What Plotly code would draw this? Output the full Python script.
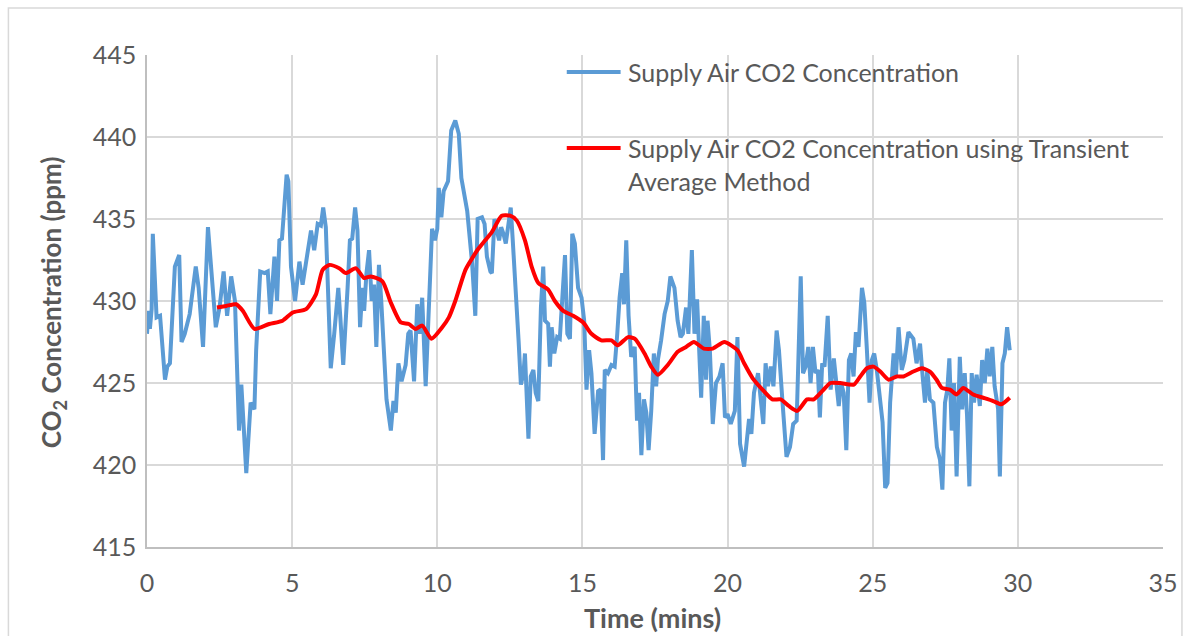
import plotly.graph_objects as go

# Supply air CO2 readings (time in minutes, concentration in ppm)
supply_time = [
    0.00, 0.05, 0.10, 0.16, 0.20, 0.27, 0.33, 0.45, 0.62, 0.70, 0.79, 0.96, 1.11, 1.19, 1.30,
    1.47, 1.68, 1.78, 1.93, 2.10, 2.22, 2.37, 2.50, 2.64, 2.76, 2.90, 3.03, 3.17, 3.25, 3.42,
    3.57, 3.70, 3.76, 3.90, 4.05, 4.16, 4.25, 4.39, 4.48, 4.56, 4.65, 4.81, 4.87, 4.96, 5.10,
    5.25, 5.36, 5.48, 5.65, 5.76, 5.88, 5.99, 6.07, 6.16, 6.24, 6.33, 6.45, 6.59, 6.66, 6.76,
    6.91, 6.99, 7.07, 7.17, 7.25, 7.34, 7.42, 7.48, 7.56, 7.65, 7.74, 7.82, 7.90, 7.99, 8.07,
    8.17, 8.25, 8.40, 8.49, 8.57, 8.66, 8.77, 8.91, 9.00, 9.08, 9.20, 9.31, 9.40, 9.48, 9.60,
    9.71, 9.82, 9.92, 10.00, 10.05, 10.14, 10.22, 10.37, 10.48, 10.62, 10.74, 10.83, 11.03, 11.20, 11.31,
    11.39, 11.54, 11.63, 11.71, 11.83, 11.88, 11.97, 12.05, 12.13, 12.20, 12.28, 12.36, 12.45, 12.53, 12.60,
    12.68, 12.80, 12.88, 12.97, 13.02, 13.14, 13.22, 13.31, 13.39, 13.48, 13.57, 13.65, 13.71, 13.82, 13.88,
    13.94, 14.03, 14.13, 14.22, 14.40, 14.48, 14.57, 14.65, 14.74, 14.85, 14.97, 15.06, 15.14, 15.23, 15.31,
    15.42, 15.54, 15.63, 15.71, 15.77, 15.88, 16.00, 16.11, 16.20, 16.28, 16.37, 16.43, 16.51, 16.59, 16.68,
    16.80, 16.88, 16.95, 17.03, 17.12, 17.20, 17.28, 17.37, 17.46, 17.54, 17.60, 17.71, 17.83, 17.94, 18.03,
    18.17, 18.28, 18.38, 18.46, 18.57, 18.65, 18.77, 18.86, 18.95, 19.03, 19.09, 19.18, 19.26, 19.31, 19.39,
    19.49, 19.60, 19.72, 19.83, 19.91, 20.00, 20.11, 20.25, 20.34, 20.43, 20.57, 20.68, 20.74, 20.82, 20.91,
    21.05, 21.14, 21.23, 21.31, 21.39, 21.49, 21.58, 21.69, 21.77, 21.89, 22.03, 22.15, 22.26, 22.38, 22.52,
    22.60, 22.69, 22.78, 22.86, 22.94, 23.03, 23.11, 23.18, 23.26, 23.34, 23.45, 23.55, 23.66, 23.83, 23.91,
    24.00, 24.09, 24.18, 24.26, 24.34, 24.42, 24.51, 24.63, 24.71, 24.80, 24.89, 24.97, 25.05, 25.14, 25.26,
    25.34, 25.43, 25.51, 25.60, 25.72, 25.80, 25.89, 26.00, 26.09, 26.23, 26.40, 26.51, 26.63, 26.72, 26.80,
    26.88, 26.97, 27.09, 27.21, 27.32, 27.40, 27.49, 27.57, 27.64, 27.72, 27.80, 27.89, 28.00, 28.08, 28.17,
    28.25, 28.33, 28.41, 28.49, 28.58, 28.69, 28.77, 28.86, 28.95, 29.03, 29.12, 29.20, 29.32, 29.38, 29.47,
    29.55, 29.63, 29.72,
]
supply_co2 = [
    428.0, 429.4, 428.3, 429.5, 434.1, 431.0, 429.0, 429.1, 425.2, 426.0, 426.2, 432.1, 432.8, 427.5, 428.0,
    429.2, 432.1, 430.8, 427.2, 434.5, 432.0, 428.4, 429.6, 431.8, 429.1, 431.5, 430.0, 422.1, 424.9, 419.5,
    423.8, 423.4, 427.0, 431.8, 431.7, 431.8, 429.2, 432.7, 430.0, 433.7, 433.8, 437.7, 437.3, 432.1, 430.0,
    432.4, 431.0, 432.4, 434.3, 433.1, 434.7, 434.6, 435.7, 434.5, 430.0, 425.9, 428.0, 430.8, 429.0, 426.1,
    430.8, 433.7, 433.8, 435.7, 434.3, 428.4, 430.8, 429.4, 431.7, 433.1, 430.0, 431.0, 427.2, 432.2, 430.0,
    426.8, 424.0, 422.1, 423.9, 423.2, 426.2, 425.1, 426.1, 428.0, 428.2, 425.1, 429.8, 428.0, 430.2, 424.8,
    430.0, 434.4, 433.7, 434.4, 436.9, 435.1, 436.7, 437.3, 440.4, 441.0, 440.2, 437.5, 435.5, 432.3, 429.1,
    435.0, 435.1, 434.7, 432.7, 431.8, 431.7, 435.0, 434.3, 433.7, 434.5, 434.1, 433.5, 434.9, 435.7, 433.7,
    431.5, 427.6, 424.9, 425.6, 426.8, 421.6, 425.4, 425.8, 424.4, 423.9, 429.6, 432.1, 428.8, 428.6, 426.0,
    428.4, 426.8, 427.8, 427.7, 432.8, 428.0, 427.7, 434.1, 433.5, 430.8, 430.2, 428.8, 424.6, 427.0, 425.6,
    421.9, 424.5, 424.6, 420.3, 425.8, 425.6, 426.1, 426.0, 428.0, 430.2, 431.7, 429.8, 433.7, 429.1, 426.6,
    427.2, 422.7, 424.4, 420.6, 424.0, 423.2, 420.9, 423.3, 426.8, 424.8, 426.4, 427.6, 429.2, 430.0, 431.5,
    430.8, 428.8, 427.8, 428.0, 429.6, 428.0, 433.1, 428.0, 430.1, 427.0, 424.1, 429.1, 425.2, 428.8, 427.0,
    422.5, 425.0, 425.4, 426.2, 422.9, 423.1, 422.5, 423.3, 427.8, 421.3, 419.9, 422.1, 422.8, 421.9, 424.4,
    425.6, 423.7, 422.5, 426.2, 424.8, 426.0, 424.8, 428.2, 427.0, 423.9, 420.5, 421.1, 422.5, 422.7, 431.5,
    425.6, 426.0, 427.2, 425.0, 427.2, 425.6, 425.8, 422.9, 426.2, 426.0, 429.1, 424.6, 426.5, 423.6, 425.0,
    424.4, 420.9, 426.4, 426.8, 425.4, 428.1, 427.2, 430.8, 429.9, 427.0, 423.8, 426.4, 426.8, 425.8, 423.8,
    422.6, 418.6, 418.9, 423.8, 426.8, 425.4, 428.4, 425.8, 426.4, 428.1, 427.7, 426.2, 427.4, 425.4, 423.8,
    425.8, 424.0, 423.8, 421.1, 420.3, 418.5, 423.8, 424.6, 426.5, 422.1, 425.0, 419.3, 426.6, 423.4, 425.6,
    423.0, 418.7, 425.6, 423.8, 425.5, 423.6, 426.4, 425.0, 427.1, 425.4, 427.2, 424.8, 423.4, 419.3, 426.2,
    426.8, 428.4, 427.0,
]

# Transient-average smoothed series
avg_time = [
    2.41, 2.73, 3.07, 3.30, 3.70, 4.21, 4.67, 5.02, 5.48, 5.82, 6.05, 6.28, 6.62, 6.85, 7.19,
    7.48, 7.71, 8.11, 8.40, 8.74, 9.02, 9.25, 9.48, 9.80, 10.17, 10.40, 10.62, 10.97, 11.20, 11.42,
    11.65, 11.88, 12.22, 12.51, 12.74, 13.02, 13.25, 13.48, 13.82, 14.05, 14.34, 14.68, 15.02, 15.31, 15.65,
    16.00, 16.22, 16.57, 16.80, 17.14, 17.37, 17.60, 17.94, 18.28, 18.57, 18.84, 19.18, 19.49, 19.89, 20.34,
    20.57, 20.86, 21.20, 21.54, 21.83, 22.11, 22.40, 22.74, 22.97, 23.26, 23.54, 23.88, 24.35, 24.57, 24.80,
    25.03, 25.26, 25.55, 25.83, 26.06, 26.40, 26.69, 26.97, 27.20, 27.38, 27.66, 27.89, 28.12, 28.46, 28.81,
    29.15, 29.43, 29.72,
]
avg_co2 = [
    429.6, 429.7, 429.8, 429.4, 428.3, 428.6, 428.8, 429.3, 429.5, 430.4, 431.9, 432.2, 432.0, 431.7, 432.0,
    431.4, 431.5, 431.2, 429.9, 428.7, 428.6, 428.3, 428.5, 427.7, 428.4, 429.0, 430.0, 431.9, 432.6, 433.2,
    433.7, 434.2, 435.2, 435.2, 434.9, 433.7, 432.1, 431.1, 430.7, 430.0, 429.4, 429.1, 428.7, 428.0, 427.6,
    427.6, 427.3, 427.8, 427.7, 426.8, 426.0, 425.5, 426.1, 426.9, 427.2, 427.5, 427.1, 427.1, 427.5, 427.0,
    426.2, 425.3, 424.6, 424.0, 424.0, 423.6, 423.3, 424.0, 424.0, 424.5, 425.0, 425.0, 424.9, 425.4, 425.9,
    426.0, 425.7, 425.2, 425.4, 425.4, 425.7, 425.9, 425.7, 425.2, 424.7, 424.6, 424.3, 424.7, 424.3, 424.1,
    423.9, 423.7, 424.1,
]

x_ticks = [0, 5, 10, 15, 20, 25, 30, 35]
y_ticks = [415, 420, 425, 430, 435, 440, 445]

series_names = [
    "Supply Air CO2 Concentration",
    "Supply Air CO2 Concentration using Transient<br>Average Method",
]
BLUE = "#5B9BD5"
RED = "#FF0000"
TEXT = "#595959"
GRID = "#D9D9D9"
FONT = "Lato, 'Open Sans', sans-serif"

W, H = 1190, 636
L, R, T, B = 147, 24, 55, 89
PW, PH = W - L - R, H - T - B


def px_x(px):
    return (px - L) / PW


def px_y(py):
    return (H - B - py) / PH


fig = go.Figure()
fig.add_trace(go.Scatter(x=supply_time, y=supply_co2, mode="lines", name=series_names[0],
                         line=dict(color=BLUE, width=4), showlegend=False))
fig.add_trace(go.Scatter(x=avg_time, y=avg_co2, mode="lines", name=series_names[1],
                         line=dict(color=RED, width=4, shape="spline", smoothing=0.6),
                         showlegend=False))

axis_common = dict(showgrid=True, gridcolor=GRID, gridwidth=1.5, zeroline=False,
                   ticks="", tickfont=dict(family=FONT, size=25, color=TEXT),
                   showline=True, linecolor="#BFBFBF", linewidth=1.5)

fig.update_xaxes(range=[0, 35], tickvals=x_ticks, ticklabelstandoff=13, **axis_common)
fig.update_yaxes(range=[415, 445], tickvals=y_ticks, ticklabelstandoff=4, **axis_common)

# Legend drawn inside the plot area
legend_rows = [(72, BLUE, series_names[0], 72), (148, RED, series_names[1], 164)]
for line_y, color, label, text_y in legend_rows:
    fig.add_shape(type="line", xref="paper", yref="paper",
                  x0=px_x(568), x1=px_x(622), y0=px_y(line_y), y1=px_y(line_y),
                  line=dict(color=color, width=4))
    fig.add_annotation(xref="paper", yref="paper", x=px_x(627), y=px_y(text_y),
                       xanchor="left", yanchor="middle", align="left", showarrow=False,
                       text=label, font=dict(family=FONT, size=25, color=TEXT))

# Axis titles
fig.add_annotation(xref="paper", yref="paper", x=px_x(654), y=px_y(617),
                   xanchor="center", yanchor="middle", showarrow=False,
                   text="<b>Time (mins)</b>", font=dict(family=FONT, size=27, color=TEXT))
fig.add_annotation(xref="paper", yref="paper", x=px_x(52), y=px_y(302),
                   xanchor="center", yanchor="middle", showarrow=False, textangle=-90,
                   text="<b>CO<sub>2</sub> Concentration (ppm)</b>",
                   font=dict(family=FONT, size=26, color=TEXT))

# Chart border
fig.add_shape(type="rect", xref="paper", yref="paper",
              x0=px_x(8), x1=px_x(1185), y0=px_y(645), y1=px_y(8),
              line=dict(color=GRID, width=1.5), layer="below")

fig.update_layout(width=W, height=H, margin=dict(l=L, r=R, t=T, b=B),
                  paper_bgcolor="white", plot_bgcolor="white",
                  font=dict(family=FONT, color=TEXT))

fig.write_html("out.html")
